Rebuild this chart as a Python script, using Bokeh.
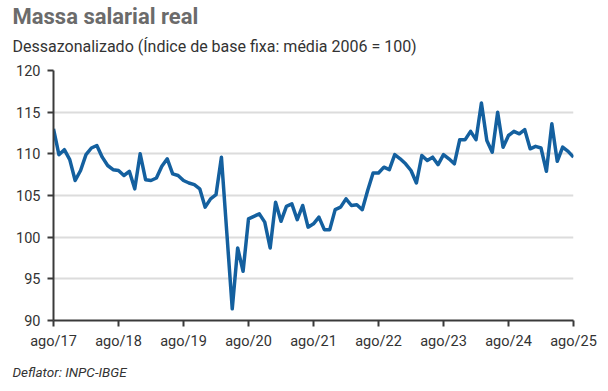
from bokeh.plotting import figure
from bokeh.models import Title, FixedTicker, Range1d
from bokeh.embed import file_html
from bokeh.resources import INLINE

title = "Massa salarial real"
subtitle = "Dessazonalizado (Índice de base fixa: média 2006 = 100)"
footer = "Deflator: INPC-IBGE"

tick_labels = ["ago/17", "ago/18", "ago/19", "ago/20", "ago/21", "ago/22", "ago/23", "ago/24", "ago/25"]
y_ticks = [90, 95, 100, 105, 110, 115, 120]

# monthly values, Aug 2017 .. Aug 2025
values = [
    113.0, 109.9, 110.5, 109.3, 106.8,
    108.0, 109.9, 110.7, 111.0, 109.6, 108.6, 108.1, 108.0, 107.4, 107.9, 105.8, 110.0,
    106.9, 106.8, 107.1, 108.5, 109.4, 107.6, 107.4, 106.8, 106.5, 106.3, 105.8, 103.6,
    104.6, 105.1, 109.6, 100.5, 91.4, 98.7, 95.9, 102.2, 102.5, 102.8, 101.8, 98.7,
    104.2, 101.9, 103.7, 104.0, 102.1, 103.8, 101.2, 101.6, 102.4, 100.9, 100.9, 103.3,
    103.6, 104.6, 103.8, 103.9, 103.3, 105.6, 107.7, 107.7, 108.4, 108.1, 109.9, 109.4,
    108.8, 108.0, 106.5, 109.8, 109.2, 109.6, 108.7, 109.9, 109.4, 108.8, 111.7, 111.7,
    112.7, 111.7, 116.1, 111.6, 110.2, 115.0, 110.8, 112.2, 112.7, 112.4, 112.9, 110.6,
    110.9, 110.7, 107.9, 113.6, 109.1, 110.8, 110.3, 109.6,
]
months = list(range(len(values)))

FONT = "Roboto"

p = figure(width=600, height=390, output_backend="svg", toolbar_location=None,
           x_range=Range1d(0, 96), y_range=Range1d(90, 120),
           min_border_left=53, min_border_right=27, min_border_top=70, min_border_bottom=70)
p.outline_line_color = None
p.background_fill_color = "white"
p.border_fill_color = "white"

p.line(months, values, line_color="#14609f", line_width=3.5, line_join="round")

tick_pos = [12 * i for i in range(len(tick_labels))]
p.xaxis.ticker = FixedTicker(ticks=tick_pos)
p.xaxis.major_label_overrides = {t: l for t, l in zip(tick_pos, tick_labels)}
p.yaxis.ticker = FixedTicker(ticks=y_ticks)

for ax in (p.xaxis[0], p.yaxis[0]):
    ax.axis_line_color = "#3a3a3a"
    ax.axis_line_width = 2
    ax.major_tick_line_color = "#3a3a3a"
    ax.major_tick_line_width = 2
    ax.major_tick_out = 6
    ax.major_tick_in = 0
    ax.minor_tick_line_color = None
    ax.major_label_text_font = FONT
    ax.major_label_text_font_size = "14.5px"
    ax.major_label_text_color = "#333333"
p.yaxis.major_label_standoff = 7
p.xaxis.major_label_standoff = 6

p.xgrid.grid_line_color = None
p.ygrid.grid_line_color = "#dcdcdc"
p.ygrid.grid_line_width = 2

p.add_layout(Title(text=subtitle, align="left", offset=-41, standoff=29,
                   text_font=FONT, text_font_size="16px", text_font_style="normal",
                   text_color="#333333"), "above")
p.add_layout(Title(text=title, align="left", offset=-41, standoff=-16,
                   text_font=FONT, text_font_size="22px", text_font_style="bold",
                   text_color="#6b6b6b"), "above")
p.add_layout(Title(text=footer, align="left", offset=-41, standoff=19,
                   text_font=FONT, text_font_size="13.5px", text_font_style="italic",
                   text_color="#333333"), "below")

open("out.html", "w").write(file_html(p, INLINE))
